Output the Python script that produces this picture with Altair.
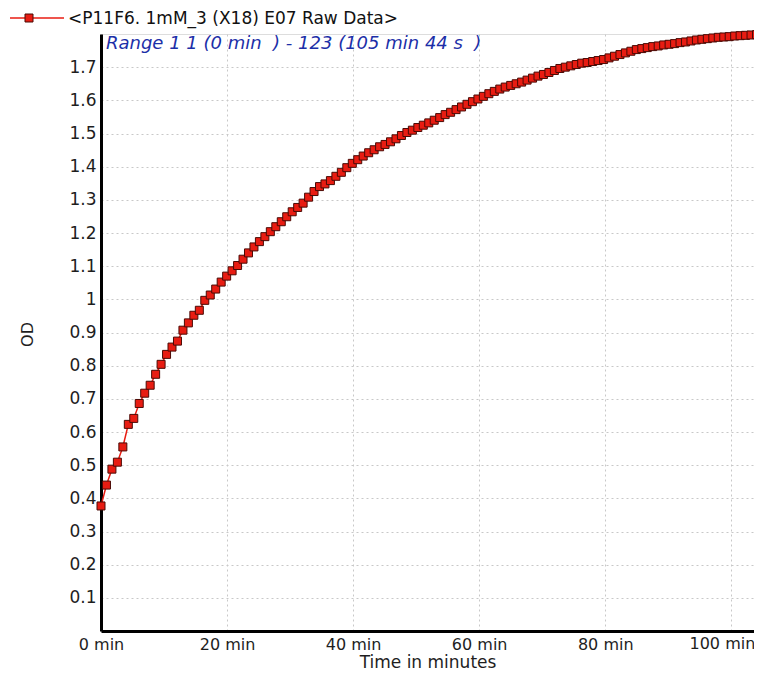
import altair as alt
import pandas as pd

# Sample schedule: 123 reads, one every 52 s (0 min .. 105 min 44 s)
read_index = list(range(123))
interval_s = 52

od = [
    0.377, 0.440, 0.488, 0.509, 0.555, 0.623, 0.641, 0.686, 0.717, 0.741,
    0.774, 0.804, 0.834, 0.856, 0.874, 0.907, 0.929, 0.952, 0.967, 0.997,
    1.013, 1.031, 1.052, 1.070, 1.086, 1.102, 1.121, 1.140, 1.158, 1.174,
    1.189, 1.204, 1.219, 1.234, 1.249, 1.264, 1.277, 1.290, 1.308, 1.325,
    1.340, 1.348, 1.358, 1.371, 1.383, 1.397, 1.410, 1.421, 1.432, 1.442,
    1.451, 1.460, 1.467, 1.475, 1.484, 1.494, 1.503, 1.510, 1.518, 1.525,
    1.532, 1.540, 1.548, 1.557, 1.564, 1.572, 1.580, 1.588, 1.596, 1.604,
    1.612, 1.620, 1.627, 1.634, 1.640, 1.645, 1.650, 1.655, 1.661, 1.667,
    1.673, 1.678, 1.684, 1.690, 1.696, 1.700, 1.704, 1.708, 1.712, 1.714,
    1.717, 1.720, 1.723, 1.728, 1.733, 1.738, 1.743, 1.748, 1.753, 1.756,
    1.759, 1.762, 1.764, 1.767, 1.769, 1.771, 1.774, 1.776, 1.779, 1.782,
    1.784, 1.786, 1.788, 1.790, 1.791, 1.792, 1.794, 1.795, 1.796, 1.797,
    1.798, 1.799, 1.800,
]

x_ticks = [0, 20, 40, 60, 80, 100]
y_ticks = [0.1, 0.2, 0.3, 0.4, 0.5, 0.6, 0.7, 0.8, 0.9, 1.0, 1.1, 1.2,
           1.3, 1.4, 1.5, 1.6, 1.7]

series_name = "<P11F6. 1mM_3 (X18) E07 Raw Data>"
range_text = "Range 1 1 (0 min\u00a0\u00a0) - 123 (105 min 44 s\u00a0\u00a0)"

df = pd.DataFrame({
    "minutes": [i * interval_s / 60 for i in read_index],
    "od": od,
})

FONT = "DejaVu Sans"
RED = "#e81c12"
DARK = "#4a0a05"
TXT = "#1e1e1e"

x_scale = alt.Scale(domain=[0, 103.6], nice=False, zero=False)
y_scale = alt.Scale(domain=[0, 1.8], nice=False, zero=True)

x_axis = alt.Axis(
    values=x_ticks,
    labelExpr="datum.value == 100 ? '' : datum.value + ' min'",
    title="Time in minutes",
    titleFont=FONT, titleFontSize=17, titleFontWeight="normal",
    titleColor=TXT, titleY=23, titleBaseline="top",
    labelFont=FONT, labelFontSize=16, labelColor=TXT,
    labelPadding=5, ticks=False, labelOverlap=False,
    domainColor="black", domainWidth=3,
    grid=True, gridColor="#c8c8c8", gridDash=[2, 3], gridWidth=1,
    labelFlush=False,
)
y_axis = alt.Axis(
    values=y_ticks,
    format="~g",
    title="OD",
    titleFont=FONT, titleFontSize=16, titleFontWeight="normal",
    titleColor=TXT, titleX=-66, titleY=300,
    labelFont=FONT, labelFontSize=17, labelColor=TXT,
    labelPadding=5, ticks=False, labelOverlap=False,
    domainColor="black", domainWidth=3,
    grid=True, gridColor="#c8c8c8", gridDash=[2, 3], gridWidth=1,
)

x_enc = alt.X("minutes:Q", scale=x_scale, axis=x_axis)
y_enc = alt.Y("od:Q", scale=y_scale, axis=y_axis)

base = alt.Chart(df)
line = base.mark_line(color=RED, strokeWidth=1.5).encode(x=x_enc, y=y_enc)
pts = base.mark_point(
    shape="square", filled=True, size=64, color=RED,
    stroke=DARK, strokeWidth=1, opacity=1,
).encode(x=x_enc, y=y_enc)

# last x tick label, right-aligned so it stays inside the page
last_lbl = pd.DataFrame({"minutes": [x_ticks[-1]], "lbl": [f"{x_ticks[-1]} min"]})
last_tick = alt.Chart(last_lbl).mark_text(
    align="right", baseline="top", font=FONT, fontSize=16, color=TXT, dx=24
).encode(x=alt.X("minutes:Q", scale=x_scale, axis=x_axis), y=alt.value(602), text="lbl:N")

one = pd.DataFrame({"k": [0]})
leg_line = alt.Chart(one).mark_rule(color=RED, strokeWidth=1.5).encode(
    x=alt.value(-91), x2=alt.value(-37), y=alt.value(-16)
)
leg_pt = alt.Chart(one).mark_point(
    shape="square", filled=True, size=64, color=RED,
    stroke=DARK, strokeWidth=1, opacity=1,
).encode(x=alt.value(-72), y=alt.value(-16))
leg_text = alt.Chart(one).mark_text(
    align="left", baseline="middle", font=FONT, fontSize=17, color="#111"
).encode(x=alt.value(-33), y=alt.value(-15), text=alt.value(series_name))
rng_text = alt.Chart(one).mark_text(
    align="left", baseline="middle", font=FONT, fontSize=18,
    fontStyle="italic", color="#1c2fa8"
).encode(x=alt.value(5), y=alt.value(10), text=alt.value(range_text))

chart = alt.layer(
    line, pts, last_tick, leg_line, leg_pt, leg_text, rng_text
).properties(
    width=653, height=597,
    autosize=alt.AutoSizeParams(type="none"),
    padding={"left": 93, "top": 26, "right": 0, "bottom": 40},
).configure_view(stroke=None).configure_axis(
    labelOverlap=False
).configure(background="white")

chart.save("out.html", embed_options={"renderer": "svg", "actions": False})
